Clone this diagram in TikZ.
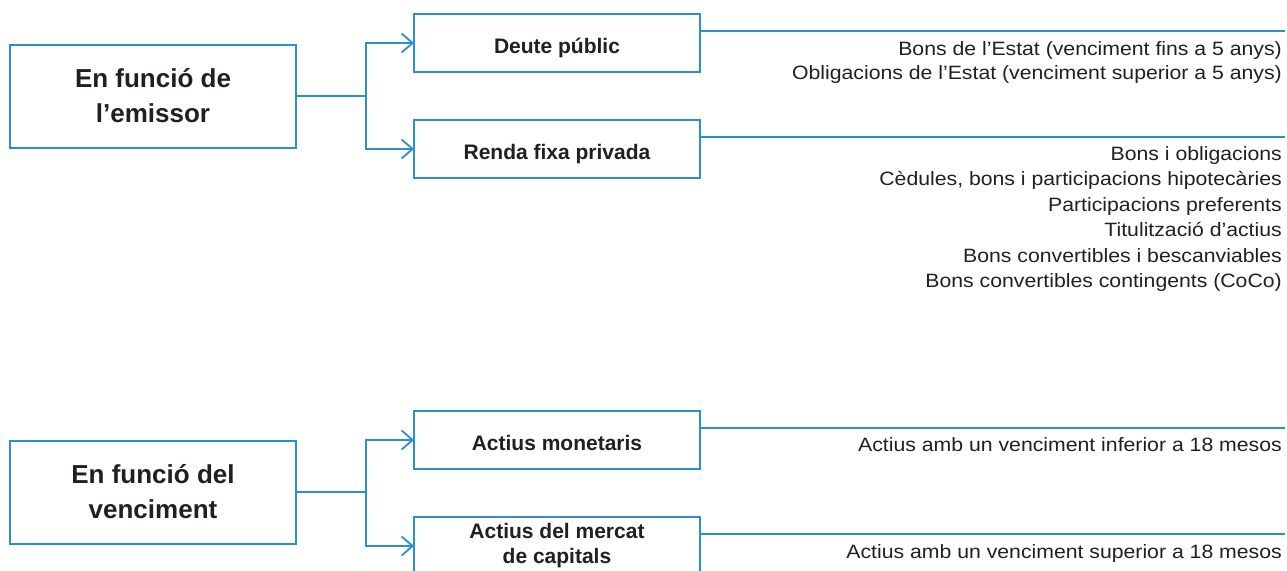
\documentclass[tikz,border=0pt]{standalone}
\usepackage{fontspec}
\setmainfont{Liberation Sans}
\newfontfamily\bodyfont[FakeStretch=1.1]{Liberation Sans}
\usetikzlibrary{arrows.meta}
\definecolor{cblue}{HTML}{2B90D0}
\definecolor{ctext}{HTML}{231F20}
\begin{document}
\begin{tikzpicture}[x=1pt,y=-1pt,
  bigbox/.style={draw=cblue,line width=2pt,outer sep=0pt,minimum width=286pt,minimum height=103pt,align=center,text=ctext,font=\bfseries\fontsize{26}{35}\selectfont,inner sep=0pt},
  catbox/.style={draw=cblue,line width=2pt,outer sep=0pt,minimum width=286pt,minimum height=58pt,align=center,text=ctext,font=\bfseries\fontsize{21}{25}\selectfont,inner sep=0pt},
  catone/.style={catbox,text height=20.5pt,text depth=0pt},
  conn/.style={draw=cblue,line width=1.8pt},
  arr/.style={conn,-{Straight Barb[length=11pt,width=19pt,line width=1.8pt]}},
  itemline/.style={draw=cblue,line width=1.5pt},
  itemtext/.style={anchor=base east,text=ctext,font=\bodyfont\fontsize{19.3}{25}\selectfont,inner sep=0pt}
]
\clip (0,0) rectangle (1287,570);
\fill[white] (0,0) rectangle (1287,570);
% boxes
\node[bigbox] (emissor) at (153,96) {En funció de\\l’emissor};
\node[catone] (deute) at (557,43) {Deute públic};
\node[catone] (renda) at (557,149) {Renda fixa privada};
\node[bigbox] (venc) at (153,492) {En funció del\\venciment};
\node[catone] (monet) at (557,440) {Actius monetaris};
\node[catbox] (capit) at (557,546) {Actius del mercat\\de capitals};
% connectors
\path (emissor.east) ++(70,0) coordinate (j1);
\draw[conn] (emissor.east) -- (j1);
\draw[arr] (j1) |- (deute.west);
\draw[arr] (j1) |- (renda.west);
\path (venc.east) ++(70,0) coordinate (j2);
\draw[conn] (venc.east) -- (j2);
\draw[arr] (j2) |- (monet.west);
\draw[arr] (j2) |- (capit.west);
% right lines
\coordinate (deuteEnd) at (1285,31);
\coordinate (rendaEnd) at (1285,137);
\coordinate (monetEnd) at (1285,428);
\coordinate (capitEnd) at (1285,534);
\draw[itemline] ([yshift=-17pt]deute.north east) -- (deuteEnd);
\draw[itemline] ([yshift=-17pt]renda.north east) -- (rendaEnd);
\draw[itemline] ([yshift=-17pt]monet.north east) -- (monetEnd);
\draw[itemline] ([yshift=-17pt]capit.north east) -- (capitEnd);
% texts
\node[itemtext] (d1) at (1282,55) {Bons de l’Estat (venciment fins a 5 anys)};
\node[itemtext] (d2) at (1282,79) {Obligacions de l’Estat (venciment superior a 5 anys)};
\node[itemtext] (r1) at (1282,160) {Bons i obligacions};
\node[itemtext] (r2) at (1282,185.5) {Cèdules, bons i participacions hipotecàries};
\node[itemtext] (r3) at (1282,211) {Participacions preferents};
\node[itemtext] (r4) at (1282,236.5) {Titulització d’actius};
\node[itemtext] (r5) at (1282,262) {Bons convertibles i bescanviables};
\node[itemtext] (r6) at (1282,287.5) {Bons convertibles contingents (CoCo)};
\node[itemtext] (m1) at (1282,451) {Actius amb un venciment inferior a 18 mesos};
\node[itemtext] (c1) at (1282,558) {Actius amb un venciment superior a 18 mesos};
\end{tikzpicture}
\end{document}
